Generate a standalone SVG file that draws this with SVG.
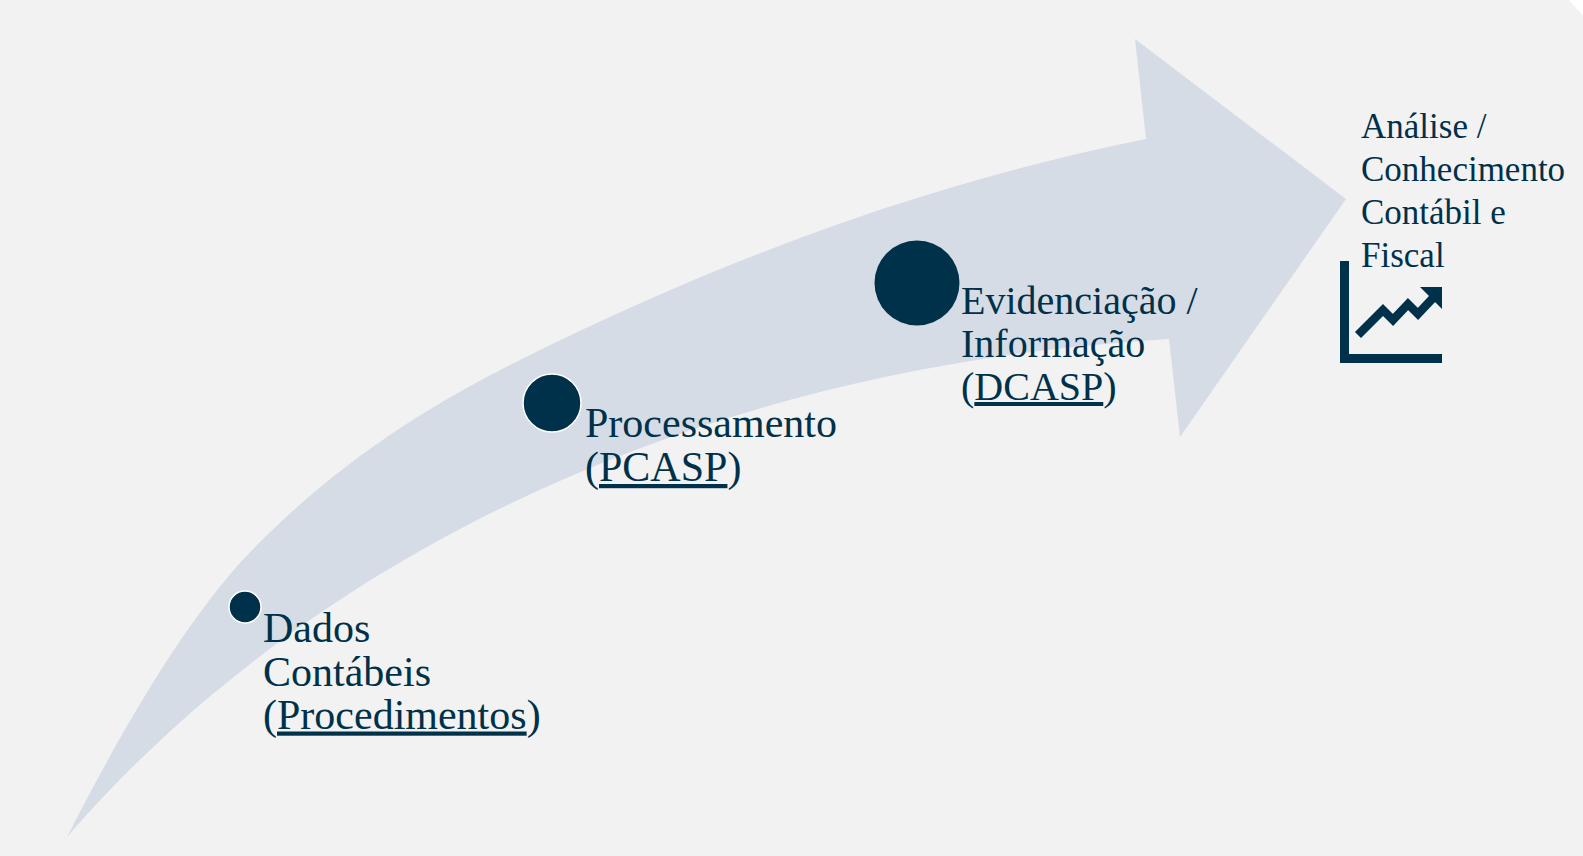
<svg xmlns="http://www.w3.org/2000/svg" width="1583" height="856" viewBox="0 0 1583 856">
  <style>
    .bg { fill: #f2f2f2; }
    .band { fill: #d6dce5; }
    .dot { fill: #00314a; }
    .dot-ring { fill: #00314a; stroke: #ffffff; stroke-width: 1.5; }
    .lbl { font-family: "Liberation Serif", "Times New Roman", serif; font-size: 42px; fill: #00314a; }
    .lbl-sm { font-family: "Liberation Serif", "Times New Roman", serif; font-size: 35px; fill: #00314a; }
    .u { text-decoration: underline; }
    .icon-fill { fill: #00314a; }
    .icon-line { fill: none; stroke: #00314a; stroke-width: 8.5; stroke-linejoin: miter; stroke-linecap: butt; }
  </style>

  <path class="bg" d="M0,0 H1569 L1583,16 V856 H0 Z"/>

  <g id="connectors">
    <path id="flow-arrow" class="band"
      d="M67,837 C130.3,713.5 193.7,608.3 257,545 C344.7,457.3 432.3,403.8 520,360 C728.7,255.7 937.3,180.7 1146,139 L1135,39 L1346,199 L1180,437 L1169,339 C650,370 280,590 67,837 Z"/>
  </g>

  <g id="node-dados">
    <circle class="dot-ring" cx="245" cy="607" r="16"/>
    <text class="lbl">
      <tspan x="263" y="642">Dados</tspan>
      <tspan x="263" y="685.5">Contábeis</tspan>
      <tspan x="263" y="728.5">(<tspan class="u">Procedimentos</tspan>)</tspan>
    </text>
  </g>

  <g id="node-processamento">
    <circle class="dot-ring" cx="552" cy="403" r="29"/>
    <text class="lbl">
      <tspan x="585" y="437">Processamento</tspan>
      <tspan x="585" y="481">(<tspan class="u">PCASP</tspan>)</tspan>
    </text>
  </g>

  <g id="node-evidenciacao">
    <circle class="dot" cx="917" cy="283" r="42.5"/>
    <text class="lbl" style="font-size:40px">
      <tspan x="961" y="314">Evidenciação /</tspan>
      <tspan x="961" y="357">Informação</tspan>
      <tspan x="961" y="400">(<tspan class="u">DCASP</tspan>)</tspan>
    </text>
  </g>

  <g id="node-analise">
    <text class="lbl-sm">
      <tspan x="1361" y="138">Análise /</tspan>
      <tspan x="1361" y="181">Conhecimento</tspan>
      <tspan x="1361" y="223.5">Contábil e</tspan>
      <tspan x="1361" y="266.5">Fiscal</tspan>
    </text>
    <g id="chart-icon">
      <rect class="icon-fill" x="1340" y="261" width="9" height="102"/>
      <rect class="icon-fill" x="1340" y="354" width="102" height="9"/>
      <polyline class="icon-line" points="1358,335 1383,310 1393,320 1408,304 1418,314 1433,298"/>
      <polygon class="icon-fill" points="1420,287 1442,287 1442,309"/>
    </g>
  </g>
</svg>
